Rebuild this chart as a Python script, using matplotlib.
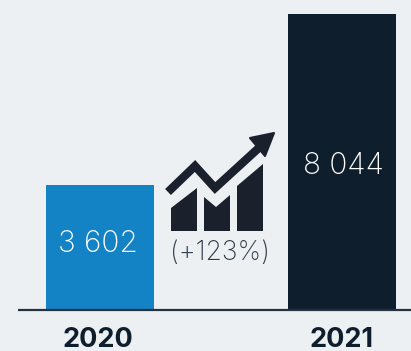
import matplotlib
matplotlib.use("Agg")
from matplotlib import pyplot as plt
from matplotlib.patches import Polygon

years = ["2020", "2021"]
bar_heights = [3402, 8044]
bar_labels = ["3 602", "8 044"]
bar_colors = ["#1383C5", "#0F1E2C"]
growth_label = "(+123%)"

bg = "#ECF0F3"
dark = "#0F1E2C"
icon = "#1A212D"

fig = plt.figure(figsize=(4.11, 3.51), dpi=100, facecolor=bg)

# axes fill the figure, x is in pixels, baseline sits at pixel row 310
ax = fig.add_axes([0, 0, 1, 1])
scale = 8044 / 296
ax.set_xlim(0, 411)
ax.set_ylim(-(351 - 310) * scale, 310 * scale)
ax.axis("off")

x_pos = [100, 342]
ax.bar(x_pos, bar_heights, width=108, color=bar_colors, zorder=2)
ax.plot([18, 411], [0, 0], color="#26323F", lw=1.6, zorder=3, solid_capstyle="butt")

# value labels inside bars
ax.text(98, (310 - 244) * scale, bar_labels[0], color="white", fontsize=21.5,
        family="Inter", weight="light", ha="center", va="center")
ax.text(343, (310 - 166) * scale, bar_labels[1], color="white", fontsize=21.5,
        family="Inter", weight="light", ha="center", va="center")

# year labels
for x, s in zip([98, 341], years):
    ax.text(x, (310 - 340) * scale, s, color=dark, fontsize=19.5, family="Inter",
            weight="bold", ha="center", va="center")

ax.text(220, (310 - 253) * scale, growth_label, color="#2F3B49", fontsize=19,
        family="Inter", weight="light", ha="center", va="center")


# icon, drawn in pixel coordinates of the picture
def px(points):
    return [(x, (310 - y) * scale) for x, y in points]


bar1 = [(171, 231), (171, 208), (197, 188), (197, 231)]
bar2 = [(204, 231), (204, 197), (216, 207), (230, 195), (230, 231)]
bar3 = [(237, 231), (237, 186), (263, 164), (263, 231)]
for shape in [bar1, bar2, bar3]:
    ax.add_patch(Polygon(px(shape), closed=True, color=icon, lw=0, zorder=4))

line = px([(168, 192), (195, 166), (215, 188), (262, 145)])
ax.plot([p[0] for p in line], [p[1] for p in line], color=icon, lw=6,
        solid_joinstyle="miter", solid_capstyle="butt", zorder=4)
ax.add_patch(Polygon(px([(274, 133), (250, 138), (265, 156)]), closed=True,
                     facecolor=icon, edgecolor=icon, lw=1.5, joinstyle="round", zorder=4))

fig.savefig("out.png", dpi=100, facecolor=bg)
